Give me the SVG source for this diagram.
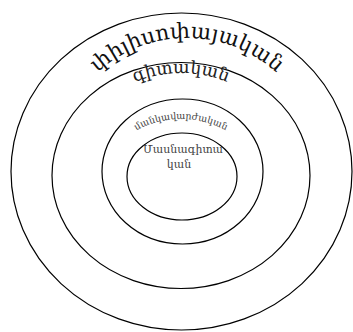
<svg xmlns="http://www.w3.org/2000/svg" width="353" height="332" viewBox="0 0 353 332">
<style>
.ring{fill:none;stroke:#000;stroke-width:1.2}
.t{font-family:"DejaVu Serif","DejaVu Sans",serif;text-anchor:middle}
</style>
<defs>
<path id="p1" d="M 54,171 A 133 133 0 0 1 320,171"/>
<path id="p2" d="M 59,195 A 122 122 0 0 1 303,195"/>
<path id="p3" d="M 87,213 A 94 94 0 0 1 275,213"/>
</defs>
<rect width="353" height="332" fill="#fff"/>
<g id="n1">
<ellipse class="ring" cx="181.5" cy="171.5" rx="170.5" ry="158.5"/>
<text class="t" font-size="21.5" fill="#111"><textPath href="#p1" startOffset="50%">փիլիսոփայական</textPath></text>
</g>
<g id="n2">
<ellipse class="ring" cx="181" cy="175.5" rx="129" ry="113"/>
<text class="t" font-size="17.5" fill="#222"><textPath href="#p2" startOffset="50%">գիտական</textPath></text>
</g>
<g id="n3">
<ellipse class="ring" cx="182.5" cy="171.5" rx="80.5" ry="72.5"/>
<text class="t" font-size="9.5" fill="#444"><textPath href="#p3" startOffset="50%">մանկավարժական</textPath></text>
</g>
<g id="n4">
<ellipse class="ring" cx="182" cy="176.5" rx="55" ry="43.5"/>
<text class="t" font-size="11" fill="#444" x="183" y="153">Մասնագիտա</text>
<text class="t" font-size="11" fill="#444" x="179" y="168">կան</text>
</g>
<g id="connectors"/>
</svg>
